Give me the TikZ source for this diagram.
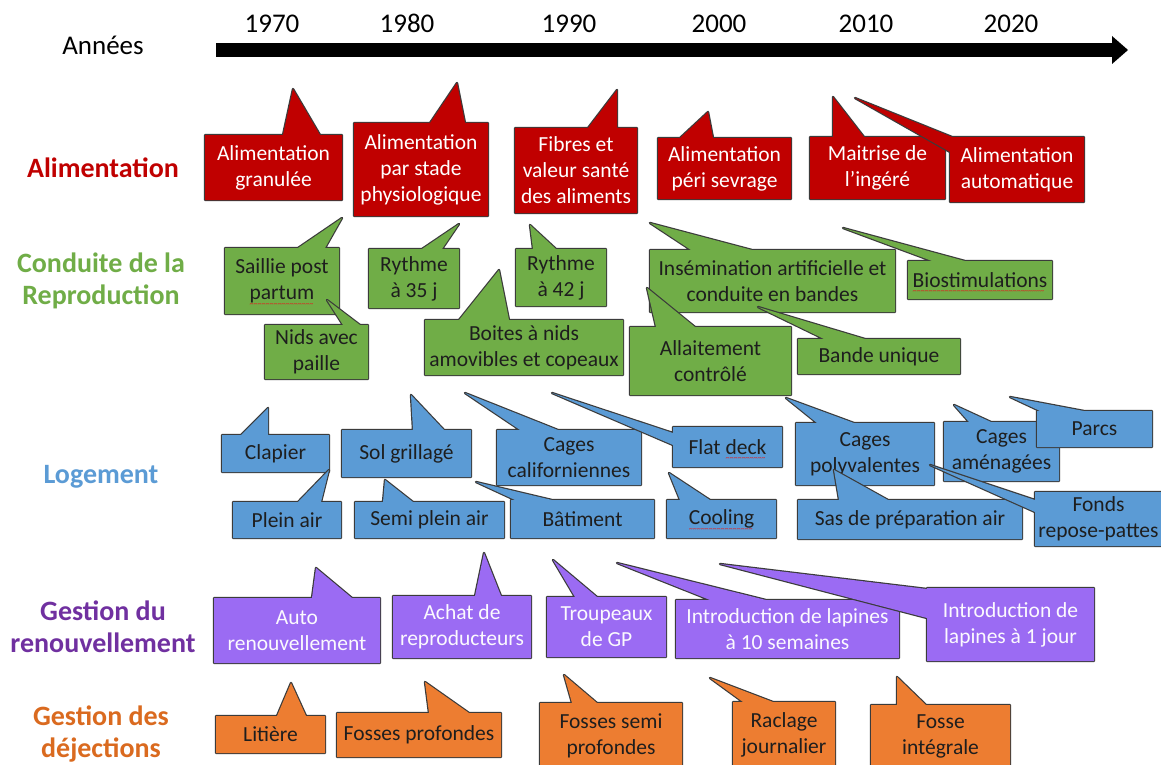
\documentclass[tikz,border=0pt]{standalone}
\usepackage{fontspec}
\setmainfont{Carlito}
\usetikzlibrary{calc}

\definecolor{bord}{HTML}{3B3B3B}
\definecolor{encre}{HTML}{1E1E1E}
\definecolor{rougeF}{HTML}{C00000}
\definecolor{vertF}{HTML}{70AD47}
\definecolor{bleuF}{HTML}{5B9BD5}
\definecolor{violetF}{HTML}{9B6BF3}
\definecolor{orangeF}{HTML}{ED7D31}
\definecolor{vertT}{HTML}{70AD47}
\definecolor{violetT}{HTML}{7030A0}
\definecolor{orangeT}{HTML}{DA6A1F}
\definecolor{souligne}{HTML}{E02020}

\tikzset{
  bulle rouge/.style={draw=bord, fill=rougeF, text=white},
  bulle verte/.style={draw=bord, fill=vertF, text=encre},
  bulle bleue/.style={draw=bord, fill=bleuF, text=encre},
  bulle violette/.style={draw=bord, fill=violetF, text=white!96!violetF},
  bulle orange/.style={draw=bord, fill=orangeF, text=encre},
  texte/.style={font=\fontsize{21.5}{26}\selectfont, align=center, inner sep=0pt},
  rubrique/.style={font=\fontsize{28}{32}\selectfont\bfseries, align=center, inner sep=0pt},
  annee/.style={font=\fontsize{27}{32}\selectfont, anchor=base, inner sep=0pt},
}

% bulle : nom, style, coin haut gauche, coin bas droit, pointe, texte
\newcommand{\bulle}[6]{%
  \draw[#2, fill=none, line width=2.4pt, line join=round] #3 rectangle #4 #5;
  \fill[#2, draw=none] #3 rectangle #4 #5 -- cycle;
  \node[#2, draw=none, fill=none, texte] (#1) at ($#3!.5!#4$) {#6};
}

% soulignement ondule du correcteur
\newcommand{\ondule}[1]{\setbox0=\hbox{#1}\rlap{\raisebox{-6.5pt}[0pt][0pt]{\color{souligne}\fontsize{8}{8}\selectfont\hbox to \wd0{\leaders\hbox{\char"7E}\hfill}}}#1}

\begin{document}
\begin{tikzpicture}[x=1pt, y=-1pt]
	\clip (0,0) rectangle (1161,765);
	\fill[white] (0,0) rectangle (1161,765);

	% axe des annees
	\node[annee] (annees) at (103,55) {Années};
	\node[annee] (a1970) at (272,33) {1970};
	\node[annee] (a1980) at (407,33) {1980};
	\node[annee] (a1990) at (569,33) {1990};
	\node[annee] (a2000) at (719,33) {2000};
	\node[annee] (a2010) at (866,33) {2010};
	\node[annee] (a2020) at (1011,33) {2020};
	\coordinate (debut) at (216,50);
	\coordinate (fin) at (1114,50);
	\draw[line width=14.5pt] (debut) -- (fin);
	\fill (1112,36) -- (1128,50) -- (1112,64) -- cycle;

	% rubriques
	\node[rubrique, text=rougeF] (alim) at (103,168) {Alimentation};
	\node[rubrique, text=vertT] (repro) at (101,281) {Conduite de la\\Reproduction};
	\node[rubrique, text=bleuF] (logement) at (101,477) {Logement};
	\node[rubrique, text=violetT] (renouv) at (103,627) {Gestion du\\renouvellement};
	\node[rubrique, text=orangeT] (dejections) at (101,734) {Gestion des\\déjections};

	% alimentation
	\bulle{granulee}{bulle rouge}{(205,135)}{(342,200)}{(283,135) -- (293,89) -- (320,135)}{Alimentation\\granulée}
	\bulle{stade}{bulle rouge}{(354,123)}{(488,216)}{(430,123) -- (457,83) -- (465,123)}{Alimentation\\par stade\\physiologique}
	\bulle{fibres}{bulle rouge}{(515,128)}{(637,213)}{(588,128) -- (617,90) -- (617,128)}{Fibres et\\valeur santé\\des aliments}
	\bulle{peri}{bulle rouge}{(658,138)}{(791,199)}{(680,138) -- (708,112) -- (713,138)}{Alimentation\\péri sevrage}
	\bulle{ingere}{bulle rouge}{(810,137)}{(945,199)}{(833,137) -- (833,97) -- (864,137)}{Maitrise de\\l’ingéré}
	\bulle{automatique}{bulle rouge}{(950,137)}{(1084,202)}{(952,137) -- (855,98) -- (950,152)}{Alimentation\\automatique}

	% reproduction
	\bulle{saillie}{bulle verte}{(225,248)}{(339,314)}{(298,248) -- (342,218) -- (325,248)}{Saillie post\\\ondule{partum}}
	\bulle{nids}{bulle verte}{(265,325)}{(368,379)}{(343,325) -- (327,300) -- (360,325)}{Nids avec\\paille}
	\bulle{rythmeA}{bulle verte}{(369,249)}{(459,308)}{(422,249) -- (459,224) -- (442,249)}{Rythme\\à 35 j}
	\bulle{rythmeB}{bulle verte}{(516,249)}{(606,306)}{(533,249) -- (530,225) -- (556,249)}{Rythme\\à 42 j}
	\bulle{boites}{bulle verte}{(425,320)}{(623,375)}{(459,320) -- (499,270) -- (509,320)}{Boites à nids\\amovibles et copeaux}
	\bulle{insemination}{bulle verte}{(650,250)}{(895,312)}{(691,250) -- (650,223) -- (752,250)}{Insémination artificielle et\\conduite en bandes}
	\bulle{biostim}{bulle verte}{(908,261)}{(1052,299)}{(932,261) -- (843,228) -- (965,261)}{\ondule{Biostimulations}}
	\bulle{allaitement}{bulle verte}{(630,327)}{(791,395)}{(656,327) -- (647,288) -- (695,327)}{Allaitement\\contrôlé}
	\bulle{bande}{bulle verte}{(798,339)}{(960,374)}{(824,339) -- (758,307) -- (865,339)}{Bande unique}

	% logement
	\bulle{clapier}{bulle bleue}{(222,435)}{(329,472)}{(241,435) -- (268,408) -- (268,435)}{Clapier}
	\bulle{pleinair}{bulle bleue}{(233,502)}{(341,538)}{(298,502) -- (329,470) -- (321,502)}{Plein air}
	\bulle{grillage}{bulle bleue}{(342,430)}{(471,477)}{(413,430) -- (411,395) -- (444,430)}{Sol grillagé}
	\bulle{semiplein}{bulle bleue}{(355,502)}{(504,538)}{(383,502) -- (385,480) -- (413,502)}{Semi plein air}
	\bulle{californie}{bulle bleue}{(497,430)}{(641,485)}{(520,430) -- (465,393) -- (558,430)}{Cages\\californiennes}
	\bulle{batiment}{bulle bleue}{(511,500)}{(654,538)}{(515,500) -- (476,482) -- (552,500)}{Bâtiment}
	\bulle{flatdeck}{bulle bleue}{(673,427)}{(782,467)}{(673,433) -- (552,393) -- (673,445)}{Flat \ondule{deck}}
	\bulle{cooling}{bulle bleue}{(667,500)}{(776,538)}{(680,500) -- (669,473) -- (710,500)}{\ondule{Cooling}}
	\bulle{polyvalentes}{bulle bleue}{(796,423)}{(934,485)}{(817,423) -- (786,398) -- (854,423)}{Cages\\polyvalentes}
	\bulle{sas}{bulle bleue}{(798,500)}{(1022,539)}{(839,500) -- (834,470) -- (888,500)}{Sas de préparation air}
	\bulle{amenagees}{bulle bleue}{(944,422)}{(1059,481)}{(969,422) -- (954,405) -- (991,422)}{Cages\\aménagées}
	\bulle{parcs}{bulle bleue}{(1037,411)}{(1152,447)}{(1040,411) -- (1010,397) -- (1084,411)}{Parcs}
	\bulle{fonds}{bulle bleue}{(1035,492)}{(1162,546)}{(1035,500) -- (930,465) -- (1035,512)}{Fonds\\repose-pattes}

	% renouvellement
	\bulle{auto}{bulle violette}{(214,598)}{(380,663)}{(312,598) -- (316,568) -- (352,598)}{Auto\\renouvellement}
	\bulle{achat}{bulle violette}{(393,596)}{(531,658)}{(475,596) -- (484,553) -- (501,596)}{Achat de\\reproducteurs}
	\bulle{troupeaux}{bulle violette}{(547,597)}{(666,657)}{(575,597) -- (553,560) -- (597,597)}{Troupeaux\\de GP}
	\bulle{introA}{bulle violette}{(676,600)}{(899,658)}{(710,600) -- (617,563) -- (766,600)}{Introduction de lapines\\à 10 semaines}
	\bulle{introB}{bulle violette}{(927,588)}{(1094,661)}{(927,589) -- (720,564) -- (927,618)}{Introduction de\\lapines à 1 jour}

	% dejections
	\bulle{litiere}{bulle orange}{(216,716)}{(325,753)}{(277,716) -- (291,683) -- (306,716)}{Litière}
	\bulle{fossesA}{bulle orange}{(337,713)}{(501,757)}{(429,713) -- (425,682) -- (469,713)}{Fosses profondes}
	\bulle{fossesB}{bulle orange}{(540,703)}{(682,768)}{(572,703) -- (564,675) -- (597,703)}{Fosses semi\\profondes}
	\bulle{raclage}{bulle orange}{(733,702)}{(835,768)}{(743,702) -- (710,678) -- (773,702)}{Raclage\\journalier}
	\bulle{integrale}{bulle orange}{(871,705)}{(1010,768)}{(897,705) -- (897,677) -- (926,705)}{Fosse\\intégrale}
\end{tikzpicture}
\end{document}
